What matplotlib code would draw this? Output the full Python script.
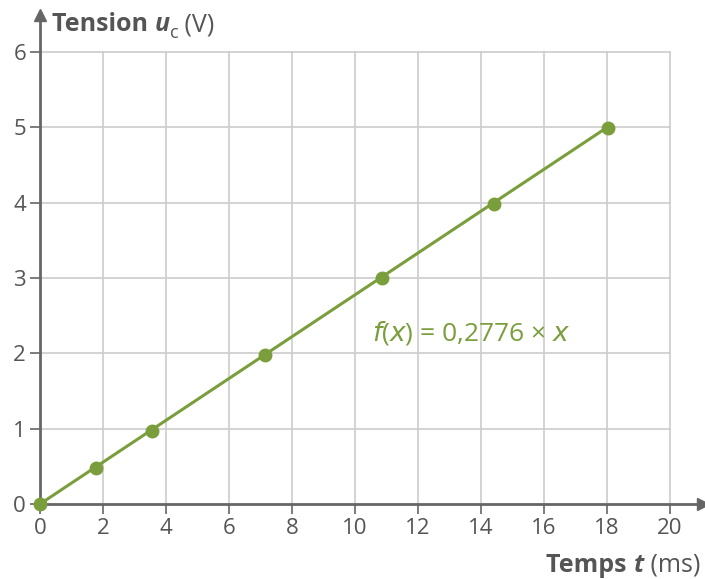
import numpy as np
import matplotlib
matplotlib.use('Agg')
import matplotlib.pyplot as plt

# Data
temps = [0, 1.78, 3.56, 7.14, 10.86, 14.41, 18.03]
tension = [0, 0.48, 0.97, 1.98, 3.0, 3.98, 4.99]
slope = 0.2776
xticks = list(range(0, 21, 2))
yticks = list(range(0, 7))

green = '#7a9e3c'
grey = '#666666'
gridc = '#cccccc'
txtc = '#555555'

plt.rcParams['font.family'] = ['Open Sans', 'DejaVu Sans']

fig = plt.figure(figsize=(7.05, 5.79), dpi=100)
ax = fig.add_axes([40 / 705, 1 - 504 / 579, 663 / 705, 489 / 579])
ax.set_xlim(0, 21.05)
ax.set_ylim(0, 6.49)

# grid only up to 20 / 6
for xv in xticks[1:]:
    ax.plot([xv, xv], [0, 6], color=gridc, lw=1.2, zorder=1)
for yv in yticks[1:]:
    ax.plot([0, 20], [yv, yv], color=gridc, lw=1.2, zorder=1)

for s in ['top', 'right']:
    ax.spines[s].set_visible(False)
for s in ['left', 'bottom']:
    ax.spines[s].set_color(grey)
    ax.spines[s].set_linewidth(2)
ax.spines['left'].set_zorder(2)
ax.spines['bottom'].set_zorder(2)

# arrow heads
ax.plot(1, 0, '>', transform=ax.transAxes, color=grey, ms=9, clip_on=False, zorder=3)
ax.plot(0, 1, '^', transform=ax.transAxes, color=grey, ms=9, clip_on=False, zorder=3)

ax.set_xticks(xticks)
ax.set_yticks(yticks)
ax.tick_params(direction='out', length=7, width=1.2, color=grey, labelcolor=txtc,
               labelsize=16, pad=3)

# fitted line and points
xl = np.array([0, temps[-1]])
ax.plot(xl, slope * xl, color=green, lw=2.2, zorder=4)
ax.plot(temps, tension, 'o', color=green, ms=9, zorder=5, clip_on=False)

# equation
ax.text(372 / 705, 1 - 333 / 579, r'$\mathit{f}$($\mathit{x}$) = 0,2776 × $\mathit{x}$',
        transform=fig.transFigure, color=green, fontsize=19, va='center', ha='left')

# axis titles built from pieces
fig.canvas.draw()
r = fig.canvas.get_renderer()

def put(parts, x0, y0):
    x = x0
    for s, kw in parts:
        dy = kw.pop('dy', 0)
        t = fig.text(x, y0 + dy, s, color=txtc, va='baseline', ha='left', **kw)
        bb = t.get_window_extent(renderer=r)
        x += bb.width / 705
    return x

put([('Tension ', dict(fontsize=18, fontweight='bold')),
     ('u', dict(fontsize=18, fontweight='bold', style='italic')),
     ('c', dict(fontsize=13, dy=-0.012)),
     (' (V)', dict(fontsize=18))],
    52 / 705, 1 - 31 / 579)

parts = [('Temps ', dict(fontsize=18, fontweight='bold')),
         ('t', dict(fontsize=18, fontweight='bold', style='italic')),
         (' (ms)', dict(fontsize=18))]
# measure total width to right-align
w = 0
for s, kw in parts:
    t = fig.text(0, 0, s, **{k: v for k, v in kw.items() if k != 'dy'})
    w += t.get_window_extent(renderer=r).width
    t.remove()
put(parts, 700 / 705 - w / 705, 1 - 572 / 579)

fig.savefig('out.png', dpi=100)
